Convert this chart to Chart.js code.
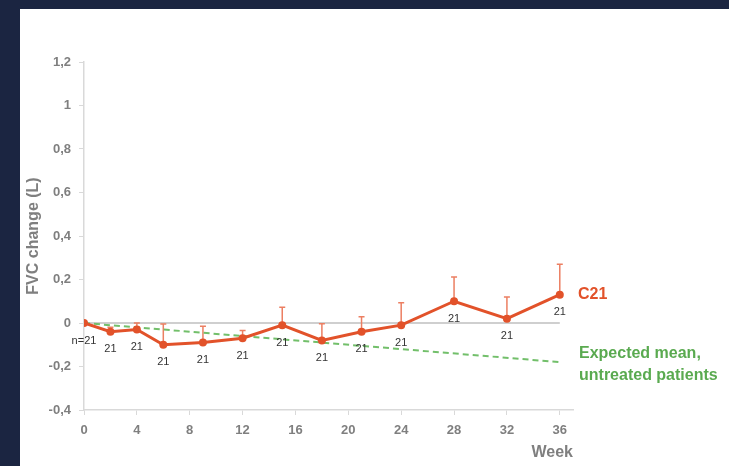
<!DOCTYPE html>
<html>
<head>
<meta charset="utf-8">
<script src="https://cdn.jsdelivr.net/npm/chart.js@4"></script>
<style>
    html, body { margin: 0; padding: 0; background: #1b2541; }
    #panel { position: absolute; left: 20px; top: 9px; width: 709px; height: 457px; background: #ffffff; }
</style>
</head>
<body>
<div id="panel"><canvas id="fvc-chart"></canvas></div>
<script>
// Chart values
const weeks = [0, 2, 4, 6, 9, 12, 15, 18, 21, 24, 28, 32, 36];
const c21Values = [0, -0.04, -0.03, -0.10, -0.09, -0.07, -0.01, -0.08, -0.04, -0.01, 0.10, 0.02, 0.13];
const c21Errors = [0, 0.02, 0.03, 0.095, 0.075, 0.035, 0.082, 0.077, 0.069, 0.103, 0.111, 0.10, 0.14];
const nLabels = ['n=21', '21', '21', '21', '21', '21', '21', '21', '21', '21', '21', '21', '21'];
const expectedWeeks = [0, 36];
const expectedValues = [0, -0.18];
const xTicks = [0, 4, 8, 12, 16, 20, 24, 28, 32, 36];

const orange = '#e2522a';
const errorColor = '#ec7f62';
const green = '#72bf6a';
const axisGrey = '#7f7f7f';
const fontFamily = '"Liberation Sans", Arial, sans-serif';

// Error bars, zero line and n labels
const annotations = {
    id: 'annotations',
    beforeDatasetsDraw(chart) {
        const { ctx, scales: { x, y } } = chart;
        ctx.save();
        // zero line
        ctx.strokeStyle = '#bfbfbf';
        ctx.lineWidth = 1.5;
        ctx.beginPath();
        ctx.moveTo(x.getPixelForValue(0), y.getPixelForValue(0));
        ctx.lineTo(x.getPixelForValue(xTicks[xTicks.length - 1]), y.getPixelForValue(0));
        ctx.stroke();
        // upper error bars
        ctx.strokeStyle = errorColor;
        ctx.lineWidth = 1.5;
        weeks.forEach((w, i) => {
            if (!c21Errors[i]) return;
            const px = x.getPixelForValue(w);
            const top = y.getPixelForValue(c21Values[i] + c21Errors[i]);
            ctx.beginPath();
            ctx.moveTo(px, y.getPixelForValue(c21Values[i]));
            ctx.lineTo(px, top);
            ctx.moveTo(px - 3, top);
            ctx.lineTo(px + 3, top);
            ctx.stroke();
        });
        ctx.restore();
    },
    afterDatasetsDraw(chart) {
        const { ctx, scales: { x, y }, chartArea } = chart;
        ctx.save();
        ctx.fillStyle = '#333333';
        ctx.font = '11px ' + fontFamily;
        ctx.textAlign = 'center';
        ctx.textBaseline = 'middle';
        weeks.forEach((w, i) => {
            ctx.fillText(nLabels[i], x.getPixelForValue(w), y.getPixelForValue(c21Values[i]) + 17.5);
        });
        // series labels on the right
        ctx.textAlign = 'left';
        ctx.font = 'bold 16px ' + fontFamily;
        ctx.fillStyle = orange;
        ctx.fillText('C21', chartArea.right + 5, y.getPixelForValue(c21Values[c21Values.length - 1]));
        ctx.fillStyle = '#5aaa50';
        const gy = y.getPixelForValue(expectedValues[expectedValues.length - 1]);
        ctx.fillText('Expected mean,', chartArea.right + 6, gy - 9);
        ctx.fillText('untreated patients', chartArea.right + 6, gy + 13);
        ctx.restore();
    }
};

new Chart(document.getElementById('fvc-chart'), {
    type: 'line',
    data: {
        datasets: [{
            label: 'C21',
            data: weeks.map((w, i) => ({ x: w, y: c21Values[i] })),
            borderColor: orange,
            backgroundColor: orange,
            borderWidth: 3,
            pointRadius: 4,
            pointBorderWidth: 0,
            fill: false
        }, {
            label: 'Expected mean, untreated patients',
            data: expectedWeeks.map((w, i) => ({ x: w, y: expectedValues[i] })),
            borderColor: green,
            borderWidth: 2,
            borderDash: [6, 4],
            pointRadius: 0,
            fill: false
        }]
    },
    options: {
        responsive: true,
        maintainAspectRatio: false,
        animation: false,
        layout: { padding: { top: 53, right: 156, left: 0, bottom: 0 } },
        plugins: {
            legend: { display: false },
            tooltip: { enabled: false }
        },
        scales: {
            x: {
                type: 'linear',
                min: 0,
                max: 37,
                afterBuildTicks: scale => { scale.ticks = xTicks.map(v => ({ value: v })); },
                afterFit: scale => { scale.height = 56; },
                border: { color: '#d9d9d9', width: 1.5 },
                grid: { drawOnChartArea: false, tickColor: '#d9d9d9', tickLength: 5 },
                ticks: {
                    autoSkip: false,
                    maxRotation: 0,
                    padding: 8,
                    color: axisGrey,
                    font: { family: fontFamily, size: 13, weight: 'bold' }
                },
                title: {
                    display: true,
                    text: 'Week',
                    align: 'end',
                    color: axisGrey,
                    font: { family: fontFamily, size: 16, weight: 'bold' }
                }
            },
            y: {
                min: -0.4,
                max: 1.2,
                afterFit: scale => { scale.width = 64; },
                border: { color: '#d9d9d9', width: 1.5 },
                grid: { drawOnChartArea: false, tickColor: '#d9d9d9', tickLength: 5 },
                ticks: {
                    stepSize: 0.2,
                    padding: 8,
                    color: axisGrey,
                    font: { family: fontFamily, size: 13, weight: 'bold' },
                    callback: v => String(Math.round(v * 10) / 10).replace('.', ',')
                },
                title: {
                    display: true,
                    text: 'FVC change (L)',
                    color: axisGrey,
                    font: { family: fontFamily, size: 16, weight: 'bold' }
                }
            }
        }
    },
    plugins: [annotations]
});
</script>
</body>
</html>
